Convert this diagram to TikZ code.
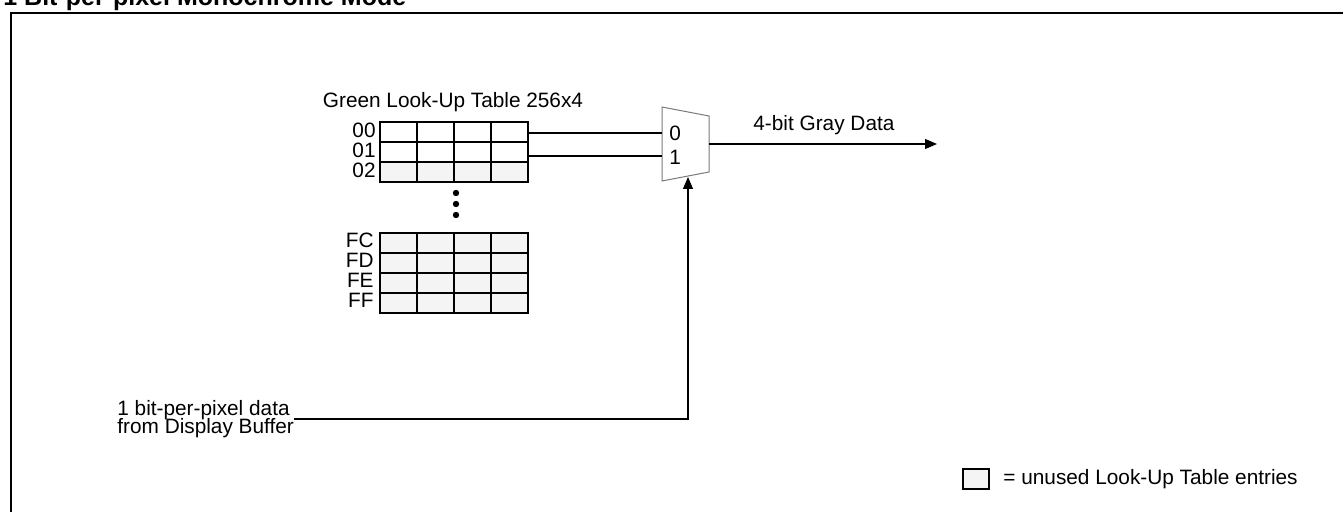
\documentclass[tikz,border=0pt]{standalone}
\usepackage{fontspec}
\setmainfont{Liberation Sans}
\usepackage{tikz}
\usetikzlibrary{arrows.meta,positioning,calc}
\usepackage{xcolor}
\definecolor{unused}{HTML}{F4F4F4}
\definecolor{muxgray}{HTML}{7A7A7A}

\begin{document}
\begin{tikzpicture}[x=0.5pt, y=-0.5pt, >={Triangle[length=6pt,width=5pt]},
  font=\fontsize{10.4}{11}\selectfont,
  cell/.style={draw, line width=0.6pt, minimum width=18.5pt, minimum height=10pt, inner sep=0pt},
  addr/.style={anchor=east, inner sep=0pt}]
  \useasboundingbox (0,0) rectangle (1343,512);

  % title and frame
  \node[anchor=base west, inner sep=0pt, font=\bfseries\fontsize{12.5}{14}\selectfont] (title) at (3,6) {1 Bit-per-pixel Monochrome Mode};
  \draw[line width=1pt] (1360,13) -- (11,13) -- (11,530);

  % look-up table, first rows
  \node[anchor=base, inner sep=0pt] (lutname) at (453,108) {Green Look-Up Table 256x4};
  \foreach \r/\y/\f in {00/132/white, 01/152/white, 02/172/unused} {
    \node[addr] (a\r) at (376,\y-2) {\r};
    \foreach \c in {1,...,4}
      \node[cell, fill=\f] (T\r-\c) at ({380+37*(\c-0.5)},\y) {};
  }
  \foreach \d in {193,204,215}
    \fill (456,\d) circle (1.6pt);

  % look-up table, last rows
  \foreach \r/\y in {FC/243, FD/263, FE/283, FF/303} {
    \node[addr] (a\r) at (374,\y-3) {\r};
    \foreach \c in {1,...,4}
      \node[cell, fill=unused] (T\r-\c) at ({380+37*(\c-0.5)},\y) {};
  }

  % multiplexer
  \draw[muxgray, line width=0.5pt] (662,107) coordinate (muxNW) -- (709,116) coordinate (muxNE)
    -- (709,172) coordinate (muxSE) -- (662,181) coordinate (muxSW) -- cycle;
  \coordinate (muxout) at (709,144);
  \coordinate (muxsel) at (688,177);
  \coordinate (pin0) at (662,133);
  \coordinate (pin1) at (662,156);
  \node[anchor=west, inner sep=0pt] (in0) at (669,133) {0};
  \node[anchor=west, inner sep=0pt] (in1) at (669,157) {1};

  \draw[line width=0.6pt] (T00-4.east |- pin0) -- (pin0);
  \draw[line width=0.6pt] (T01-4.east |- pin1) -- (pin1);

  % output
  \coordinate (grayend) at (937,144);
  \draw[->, line width=0.6pt] (muxout) -- (grayend);
  \node[anchor=base west, inner sep=0pt] (graylbl) at (753,131) {4-bit Gray Data};

  % select input
  \node[anchor=base west, inner sep=0pt] (buf1) at (117,416) {1 bit-per-pixel data};
  \node[anchor=base west, inner sep=0pt] (buf2) at (117,434) {from Display Buffer};
  \draw[->, line width=0.6pt] ([xshift=2pt]buf1.base east |- 0,419) -| (muxsel);

  % legend
  \node[draw, line width=0.6pt, fill=unused, minimum width=13pt, minimum height=10pt, inner sep=0pt] (key) at (976,479) {};
  \node[anchor=west, inner sep=0pt] (keytext) at (1003,479) {= unused Look-Up Table entries};
\end{tikzpicture}
\end{document}
